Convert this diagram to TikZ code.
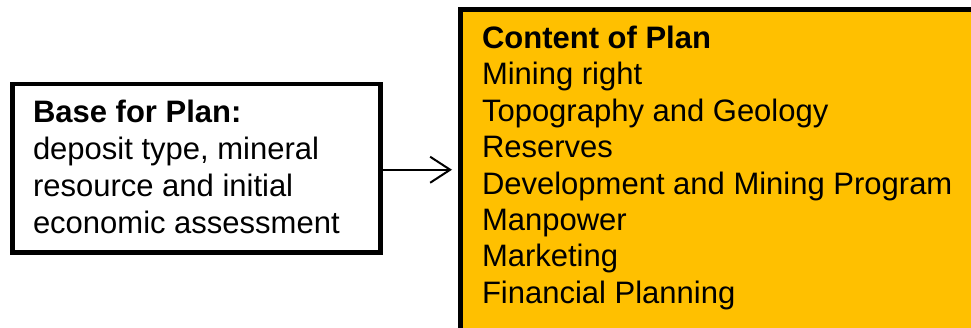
\documentclass[tikz,border=0pt]{standalone}
\usepackage{fontspec}
\setmainfont{Liberation Sans}
\usetikzlibrary{arrows.meta}
\definecolor{gold}{HTML}{FFC000}
\tikzset{
  boxstyle/.style={draw=black, line width=4.5pt, inner sep=0pt, outer sep=0pt, anchor=north west},
  txt/.style={anchor=base west, inner sep=0pt, outer sep=0pt, font=\fontsize{31}{36.6}\selectfont},
  arr/.style={line width=2pt, -{Straight Barb[length=20pt,width=26pt,line width=2pt]}, shorten >=8.5pt}
}
\begin{document}
\begin{tikzpicture}[x=1pt,y=-1pt]
\useasboundingbox (0,0) rectangle (971,328);
\begin{scope}
\clip (0,0) rectangle (971,328);
\node[boxstyle, minimum width=368pt, minimum height=168.5pt] (base) at (12.5,84) {};
\node[boxstyle, fill=gold, minimum width=540pt, minimum height=321pt] (content) at (460.5,9.5) {};
\node[txt] (basetext) at (33,123) {\vtop{\baselineskip=36.9pt\lineskiplimit=-100pt
  \hbox{\bfseries Base for Plan:}
  \hbox{deposit type, mineral}
  \hbox{resource and initial}
  \hbox{economic assessment}}};
\node[txt] (contenttext) at (482,48.3) {\vtop{\baselineskip=36.45pt\lineskiplimit=-100pt
  \hbox{\bfseries Content of Plan}
  \hbox{Mining right}
  \hbox{Topography and Geology}
  \hbox{Reserves}
  \hbox{Development and Mining Program}
  \hbox{Manpower}
  \hbox{Marketing}
  \hbox{Financial Planning}}};
\draw[arr] ([yshift=-1.5pt]base.east) -- ([yshift=-1.5pt]base.east -| content.west);
\end{scope}
\end{tikzpicture}
\end{document}
